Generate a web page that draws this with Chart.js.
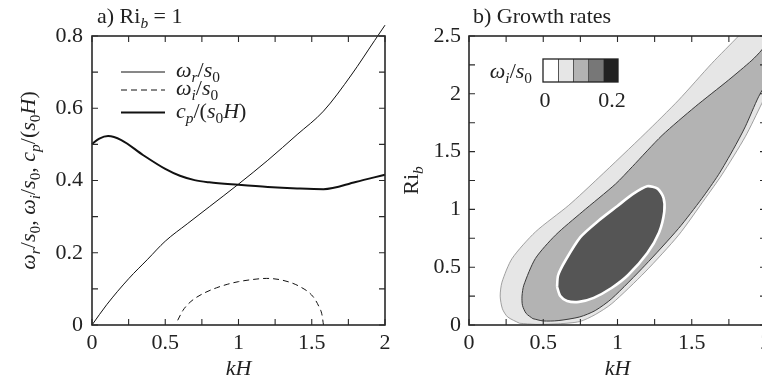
<!DOCTYPE html>
<html>
<head>
<meta charset="utf-8">
<script src="https://cdn.jsdelivr.net/npm/chart.js@4.4.1/dist/chart.umd.min.js"></script>
<style>
  body { margin: 0; width: 762px; height: 380px; overflow: hidden; position: relative; background: #fff; }
  canvas { position: absolute; top: 0; }
</style>
</head>
<body>
<canvas id="panelA" width="400" height="380" style="left:0"></canvas>
<canvas id="panelB" width="410" height="380" style="left:390px"></canvas>
<script>
// ---- panel a) data ----
const kH_r = [0, 0.1, 0.25, 0.38, 0.5, 0.65, 0.8, 1.0, 1.2, 1.4, 1.58, 1.77, 1.93, 2.0];
const omegaR = [0, 0.056, 0.128, 0.182, 0.232, 0.28, 0.327, 0.39, 0.456, 0.527, 0.592, 0.692, 0.788, 0.83];

const kH_i = [0.585, 0.62, 0.654, 0.7, 0.768, 0.85, 0.927, 1.0, 1.12, 1.19, 1.3, 1.42, 1.51, 1.55, 1.57, 1.58];
const omegaI = [0.013, 0.04, 0.057, 0.073, 0.089, 0.103, 0.113, 0.12, 0.127, 0.129, 0.124, 0.106, 0.078, 0.05, 0.028, 0.0];

const kH_c = [0, 0.05, 0.11, 0.2, 0.35, 0.5, 0.6, 0.7, 0.8, 1.0, 1.2, 1.4, 1.58, 1.8, 2.0];
const cpH = [0.501, 0.516, 0.523, 0.512, 0.47, 0.432, 0.413, 0.401, 0.395, 0.388, 0.382, 0.378, 0.376, 0.396, 0.416];

const xTicksA = [0, 0.5, 1, 1.5, 2];
const yTicksA = [0, 0.2, 0.4, 0.6, 0.8];

// ---- panel b) growth-rate contours (region outlines in kH, Ri_b) ----
const outerKH = [0.34, 0.26, 0.225, 0.21, 0.222, 0.29, 0.447, 0.672, 0.874, 1.186, 1.411, 1.635, 1.815, 1.9, 2.2, 2.2, 2.05, 1.972, 1.86, 1.703, 1.59, 1.411, 1.186, 0.962, 0.85, 0.746, 0.6, 0.45, 0.34];
const outerRi = [0.015, 0.07, 0.14, 0.25, 0.37, 0.575, 0.805, 1.036, 1.275, 1.657, 1.945, 2.263, 2.5, 2.62, 2.62, 2.4, 2.12, 1.917, 1.628, 1.3, 1.094, 0.777, 0.459, 0.185, 0.09, 0.03, 0.01, 0.005, 0.015];

const midKH = [0.43, 0.385, 0.36, 0.357, 0.369, 0.447, 0.582, 0.762, 0.987, 1.1, 1.3, 1.523, 1.748, 1.905, 1.972, 2.1, 2.15, 2.05, 1.95, 1.86, 1.78, 1.68, 1.568, 1.411, 1.186, 0.962, 0.85, 0.746, 0.6, 0.5, 0.43];
const midRi = [0.055, 0.1, 0.17, 0.25, 0.344, 0.575, 0.777, 0.978, 1.22, 1.37, 1.64, 1.888, 2.119, 2.29, 2.38, 2.6, 2.45, 2.2, 1.974, 1.714, 1.52, 1.3, 1.094, 0.835, 0.517, 0.229, 0.125, 0.07, 0.038, 0.035, 0.055];

const darkKH = [0.593, 0.615, 0.66, 0.74, 0.84, 0.96, 1.07, 1.2, 1.28, 1.315, 1.31, 1.27, 1.2, 1.1, 1.0, 0.87, 0.75, 0.65, 0.6, 0.593];
const darkRi = [0.33, 0.25, 0.208, 0.2, 0.235, 0.32, 0.43, 0.62, 0.8, 0.98, 1.1, 1.18, 1.2, 1.13, 1.03, 0.9, 0.76, 0.56, 0.43, 0.33];

const levelColors = ['#ffffff', '#e6e6e6', '#b3b3b3', '#777777', '#222222'];
const levelLabels = ['0', '0.2'];

const xTicksB = [0, 0.5, 1, 1.5, 2];
const yTicksB = [0, 0.5, 1, 1.5, 2, 2.5];

// ---- texts (parts: [text, style]; i = italic, r = roman, s = subscript) ----
const titleA = [['a) Ri', 'r'], ['b', 'is'], [' = 1', 'r']];
const titleB = [['b) Growth rates', 'r']];
const yTitleA = [['ω', 'i'], ['r', 'is'], ['/', 'r'], ['s', 'i'], ['0', 'rs'], [', ', 'r'],
                 ['ω', 'i'], ['i', 'is'], ['/', 'r'], ['s', 'i'], ['0', 'rs'], [', ', 'r'],
                 ['c', 'i'], ['p', 'is'], ['/(', 'r'], ['s', 'i'], ['0', 'rs'], ['H', 'i'], [')', 'r']];
const yTitleB = [['Ri', 'r'], ['b', 'is']];
const xTitle = [['kH', 'i']];
const legendTexts = [
    [['ω', 'i'], ['r', 'is'], ['/', 'r'], ['s', 'i'], ['0', 'rs']],
    [['ω', 'i'], ['i', 'is'], ['/', 'r'], ['s', 'i'], ['0', 'rs']],
    [['c', 'i'], ['p', 'is'], ['/(', 'r'], ['s', 'i'], ['0', 'rs'], ['H', 'i'], [')', 'r']]
];
const colorbarLabel = [['ω', 'i'], ['i', 'is'], ['/', 'r'], ['s', 'i'], ['0', 'rs']];

const FONT = '"Liberation Serif", "DejaVu Serif", serif';
const FS = 22;
const INK = '#222';

function pairs(xs, ys) {
    return xs.map((x, i) => ({ x: x, y: ys[i] }));
}

function hasTick(list, v) {
    return list.some(t => Math.abs(t - v) < 1e-6);
}

// draws text with italic / subscript parts
function drawRich(ctx, parts, x, y, size, align) {
    let w = 0;
    const items = parts.map(([t, s]) => {
        const sub = s.indexOf('s') >= 0;
        const fs = sub ? size * 0.7 : size;
        const font = (s[0] === 'i' ? 'italic ' : '') + fs + 'px ' + FONT;
        ctx.font = font;
        const mw = ctx.measureText(t).width;
        w += mw;
        return { t: t, font: font, mw: mw, dy: sub ? size * 0.24 : 0 };
    });
    let cx = align === 'center' ? x - w / 2 : (align === 'right' ? x - w : x);
    ctx.textAlign = 'left';
    ctx.textBaseline = 'alphabetic';
    items.forEach(it => {
        ctx.font = it.font;
        ctx.fillText(it.t, cx, y + it.dy);
        cx += it.mw;
    });
}

// frame + inward ticks on all four sides, then extra drawing
function figPlugin(extra) {
    return {
        id: 'fig',
        afterDraw(chart) {
            const { ctx, chartArea: a, scales } = chart;
            ctx.save();
            ctx.strokeStyle = '#2a2a2a';
            ctx.lineWidth = 1.6;
            ctx.strokeRect(a.left, a.top, a.right - a.left, a.bottom - a.top);
            ctx.lineWidth = 1.1;
            ctx.beginPath();
            scales.x.ticks.forEach(t => {
                const px = scales.x.getPixelForValue(t.value);
                ctx.moveTo(px, a.bottom); ctx.lineTo(px, a.bottom - 6);
                ctx.moveTo(px, a.top); ctx.lineTo(px, a.top + 6);
            });
            scales.y.ticks.forEach(t => {
                const py = scales.y.getPixelForValue(t.value);
                ctx.moveTo(a.left, py); ctx.lineTo(a.left + 6, py);
                ctx.moveTo(a.right, py); ctx.lineTo(a.right - 6, py);
            });
            ctx.stroke();
            ctx.fillStyle = INK;
            extra(chart, ctx);
            ctx.restore();
        }
    };
}

function axisOpts(min, max, step, labels, fitKey, fitVal, pad) {
    return {
        type: 'linear',
        min: min,
        max: max,
        grid: { drawOnChartArea: false, drawTicks: false },
        border: { display: false },
        ticks: {
            stepSize: step,
            autoSkip: false,
            maxRotation: 0,
            padding: pad,
            color: INK,
            font: { family: FONT, size: FS },
            callback: v => hasTick(labels, v) ? String(Math.round(v * 10) / 10) : ''
        },
        afterFit: s => { s[fitKey] = fitVal; }
    };
}

// ---- panel a) ----
const ctxA = document.getElementById('panelA').getContext('2d');
const chartA = new Chart(ctxA, {
    type: 'line',
    data: {
        datasets: [
            { data: pairs(kH_r, omegaR), borderColor: '#111', borderWidth: 1, borderDash: [] },
            { data: pairs(kH_i, omegaI), borderColor: '#111', borderWidth: 1, borderDash: [6, 4] },
            { data: pairs(kH_c, cpH), borderColor: '#111', borderWidth: 2, borderDash: [] }
        ]
    },
    options: {
        responsive: false,
        animation: false,
        clip: false,
        layout: { padding: { top: 36, right: 15, left: 0, bottom: 0 } },
        elements: { point: { radius: 0 }, line: { cubicInterpolationMode: 'monotone', fill: false } },
        plugins: { legend: { display: false }, tooltip: { enabled: false } },
        scales: {
            x: axisOpts(0, 2, 0.25, xTicksA, 'height', 55, 5),
            y: axisOpts(0, 0.8, 0.1, yTicksA, 'width', 92, 9)
        }
    },
    plugins: [figPlugin((chart, ctx) => {
        const a = chart.chartArea;
        drawRich(ctx, titleA, 97, 23, FS, 'left');
        drawRich(ctx, xTitle, (a.left + a.right) / 2, 375, FS, 'center');
        ctx.save();
        ctx.translate(35, (a.top + a.bottom) / 2);
        ctx.rotate(-Math.PI / 2);
        drawRich(ctx, yTitleA, 0, 0, FS, 'center');
        ctx.restore();
        // legend
        const rows = [72, 90, 112.5];
        chart.data.datasets.forEach((ds, i) => {
            ctx.save();
            ctx.strokeStyle = ds.borderColor;
            ctx.lineWidth = ds.borderWidth;
            ctx.setLineDash(ds.borderDash);
            ctx.beginPath();
            ctx.moveTo(121, rows[i]);
            ctx.lineTo(165, rows[i]);
            ctx.stroke();
            ctx.restore();
            drawRich(ctx, legendTexts[i], 176, rows[i] + 5, FS, 'left');
        });
    })]
});

// ---- panel b) ----
const ctxB = document.getElementById('panelB').getContext('2d');
const chartB = new Chart(ctxB, {
    type: 'scatter',
    data: {
        datasets: [
            { data: pairs(darkKH, darkRi), backgroundColor: '#555555', borderColor: '#ffffff', borderWidth: 2.6 },
            { data: pairs(midKH, midRi), backgroundColor: '#b3b3b3', borderColor: '#3a3a3a', borderWidth: 1 },
            { data: pairs(outerKH, outerRi), backgroundColor: '#e6e6e6', borderColor: '#8a8a8a', borderWidth: 0.8 }
        ]
    },
    options: {
        responsive: false,
        animation: false,
        layout: { padding: { top: 36, right: 34, left: 0, bottom: 0 } },
        datasets: { scatter: { showLine: true, fill: 'shape', tension: 0.25, pointRadius: 0 } },
        plugins: { legend: { display: false }, tooltip: { enabled: false } },
        scales: {
            x: axisOpts(0, 2, 0.25, xTicksB, 'height', 55, 5),
            y: axisOpts(0, 2.5, 0.25, yTicksB, 'width', 79, 8)
        }
    },
    plugins: [figPlugin((chart, ctx) => {
        const a = chart.chartArea;
        drawRich(ctx, titleB, 83, 23, FS, 'left');
        drawRich(ctx, xTitle, chart.scales.x.getPixelForValue(1), 375, FS, 'center');
        ctx.save();
        ctx.translate(28, (a.top + a.bottom) / 2);
        ctx.rotate(-Math.PI / 2);
        drawRich(ctx, yTitleB, 0, 0, FS, 'center');
        ctx.restore();
        // colour bar
        const bx = 153, by = 59, bw = 15, bh = 23;
        levelColors.forEach((c, i) => {
            ctx.fillStyle = c;
            ctx.fillRect(bx + i * bw, by, bw, bh);
        });
        ctx.strokeStyle = '#555';
        ctx.lineWidth = 1;
        for (let i = 1; i < levelColors.length; i++) {
            ctx.beginPath();
            ctx.moveTo(bx + i * bw + 0.5, by);
            ctx.lineTo(bx + i * bw + 0.5, by + bh);
            ctx.stroke();
        }
        ctx.strokeStyle = '#222';
        ctx.lineWidth = 1.3;
        ctx.strokeRect(bx, by, bw * levelColors.length, bh);
        ctx.fillStyle = INK;
        drawRich(ctx, colorbarLabel, 142, 78, FS, 'right');
        drawRich(ctx, [[levelLabels[0], 'r']], bx + 2, 107, FS, 'center');
        drawRich(ctx, [[levelLabels[1], 'r']], bx + bw * levelColors.length - 6, 107, FS, 'center');
    })]
});
</script>
</body>
</html>
